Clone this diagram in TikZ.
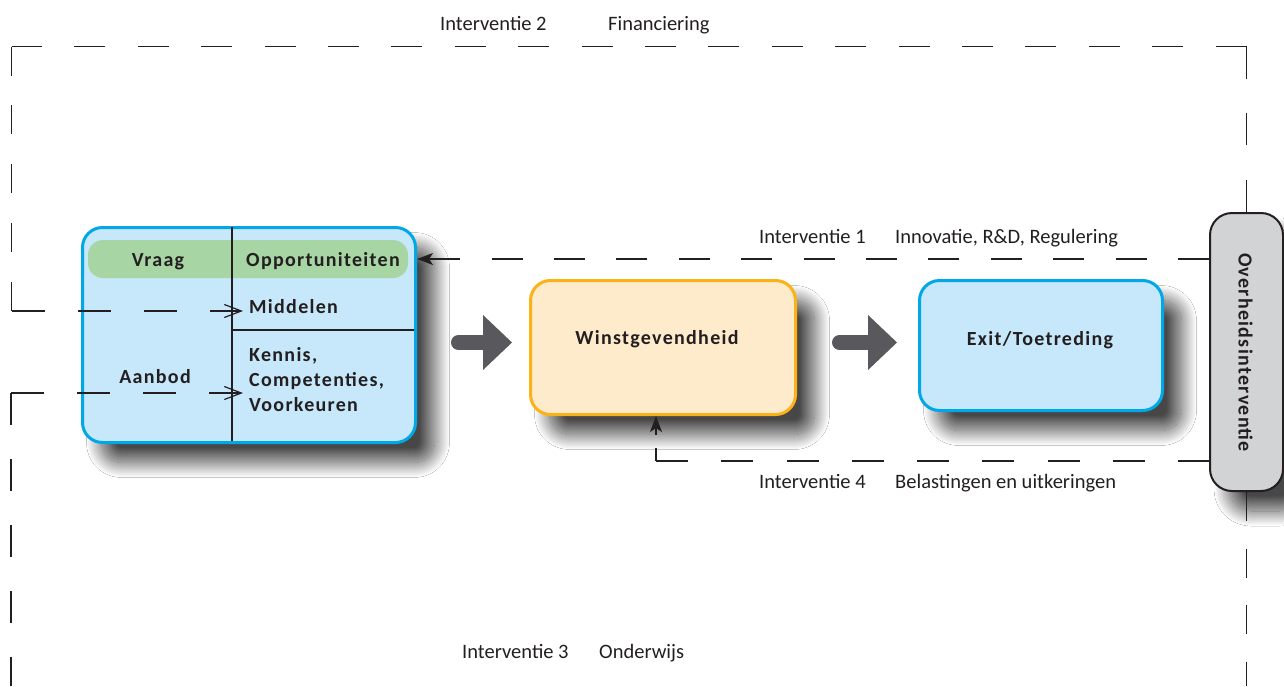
\documentclass[tikz,border=0pt]{standalone}
\usepackage{fontspec}
\setmainfont{Carlito}
\newfontfamily\boxfont{Carlito}[LetterSpace=6.5]
\usetikzlibrary{shadows.blur,arrows.meta,calc}
\definecolor{cyanb}{RGB}{0,168,232}
\definecolor{bluef}{RGB}{199,232,250}
\definecolor{greenf}{RGB}{168,213,164}
\definecolor{orangeb}{RGB}{251,178,22}
\definecolor{orangef}{RGB}{254,235,204}
\definecolor{arrowg}{RGB}{89,89,93}
\definecolor{grayf}{RGB}{210,211,213}
\definecolor{ink}{RGB}{35,31,32}
\begin{document}
\begin{tikzpicture}[x=1pt,y=-1pt,
  boxshadow/.style={blur shadow={shadow xshift=19pt, shadow yshift=-20pt, shadow blur radius=15pt, shadow blur steps=30, shadow opacity=72}},
  box/.style={rounded corners=20pt, line width=3pt, boxshadow},
  btxt/.style={font=\boxfont\bfseries\fontsize{20}{25}\selectfont, text=ink, inner sep=0pt},
  lbl/.style={font=\fontsize{20.5}{25}\selectfont, text=ink, inner sep=0pt, anchor=base west},
  dline/.style={draw=ink, line width=1.2pt},
  divline/.style={draw=ink, line width=1.2pt},
  barb/.style={-{Straight Barb[length=17pt,width=13pt]}},
  stl/.style={-{Stealth[length=16pt,width=12pt,inset=4pt]}},
  bigshaft/.style={draw=arrowg, line width=15pt, line cap=round},
  bighead/.style={fill=arrowg},
]
\useasboundingbox (0,0) rectangle (1284,686);
\clip (0,0) rectangle (1284,686);
\fill[white] (0,0) rectangle (1284,686);

% left box
\node[box, draw=cyanb, fill=bluef, minimum width=333pt, minimum height=215pt] (left) at (249,335) {};
\node[fill=greenf, rounded corners=15pt, minimum width=320pt, minimum height=38pt, inner sep=0pt] (band) at (248,259) {};
\draw[divline] (232,226.5) -- (232,441);
\draw[divline] (232,330) -- (414,330);
\node[btxt, anchor=base] (vraag) at (158,266) {Vraag};
\node[btxt, anchor=base] (opp) at (323,266) {Opportuniteiten};
\node[btxt, anchor=base west] (midd) at (249,313) {Middelen};
\node[btxt, anchor=base] (aanbod) at (155,383) {Aanbod};
\node[btxt, anchor=west, align=left] (kennis) at (249,380) {Kennis,\\Competenties,\\Voorkeuren};

% middle and right boxes
\node[box, draw=orangeb, fill=orangef, minimum width=265pt, minimum height=134pt] (winst) at (663,347.5) {};
\node[btxt, anchor=base] (winsttxt) at (657,344) {Winstgevendheid};
\node[box, draw=cyanb, fill=bluef, minimum width=243pt, minimum height=130pt] (exit) at (1041,345.5) {};
\node[btxt, anchor=base] (exittxt) at (1040,345) {Exit/Toetreding};

% government box
\node[rounded corners=22pt, draw=ink, line width=2pt, fill=grayf, boxshadow, minimum width=73pt, minimum height=278pt] (over) at (1246.5,352) {};
\node[btxt, rotate=-90] (overtxt) at (1245.5,352.5) {Overheidsinterventie};

% corner coordinates
\coordinate (c2tr) at (1246.5,46.5);
\coordinate (c2tl) at (11.5,46.5);
\coordinate (c2bl) at (11.5,311);
\coordinate (c3bl) at (11,393);
\coordinate (c3bot) at (11,686);
\coordinate (c3br) at (1246.5,686);
\coordinate (c4) at (656,461);

% Interventie 2
\draw[dline, dash pattern=on 32pt off 34.75pt] (over.north) -- (c2tr);
\draw[dline, dash pattern=on 31pt off 32.4pt] (c2tr) -- (c2tl);
\draw[dline, dash pattern=on 29pt off 29.9pt] (c2tl) -- (c2bl);
\draw[dline, dash pattern=on 33pt off 33pt, barb] (c2bl) -- ($(c2bl -| midd.west)+(-6,0)$);

% Interventie 3
\draw[dline, dash pattern=on 29pt off 27.5pt] (over.south) -- (c3br);
\draw[dline, dash pattern=on 32pt off 34pt] (c3bl) -- (c3bot);
\draw[dline, dash pattern=on 33pt off 33pt, barb] (c3bl) -- ($(c3bl -| kennis.west)+(-6,0)$);

% Interventie 1
\draw[dline, dash pattern=on 31pt off 31.4pt, stl] (over.west |- band.east) -- (left.east |- band.east);

% Interventie 4
\draw[dline, dash pattern=on 32pt off 33.25pt] (c4) -- (c4 -| over.west);
\draw[dline, dash pattern=on 13pt off 13pt, stl] (c4) -- (c4 |- winst.south);

% big arrows
\coordinate (a1s) at ($(left.east)+(41.5,7.5)$);
\coordinate (a1t) at ($(winst.west)+(-17,-5)$);
\draw[bigshaft] (a1s) -- ($(a1t)+(-29,0)$);
\fill[bighead] ($(a1t)+(-29,-27.5)$) -- (a1t) -- ($(a1t)+(-29,27.5)$) -- cycle;
\coordinate (a2s) at ($(winst.east)+(42.5,-5)$);
\coordinate (a2t) at ($(exit.west)+(-21,-3)$);
\draw[bigshaft] (a2s) -- ($(a2t)+(-29,0)$);
\fill[bighead] ($(a2t)+(-29,-27.5)$) -- (a2t) -- ($(a2t)+(-29,27.5)$) -- cycle;

% labels
\node[lbl] (l2a) at (440,30) {Interventie 2};
\node[lbl] (l2b) at (608,30) {Financiering};
\node[lbl] (l1a) at (759,243) {Interventie 1};
\node[lbl] (l1b) at (895,243) {Innovatie, R\&D, Regulering};
\node[lbl] (l4a) at (759,488) {Interventie 4};
\node[lbl] (l4b) at (895,488) {Belastingen en uitkeringen};
\node[lbl] (l3a) at (462,658) {Interventie 3};
\node[lbl] (l3b) at (599,658) {Onderwijs};
\end{tikzpicture}
\end{document}
